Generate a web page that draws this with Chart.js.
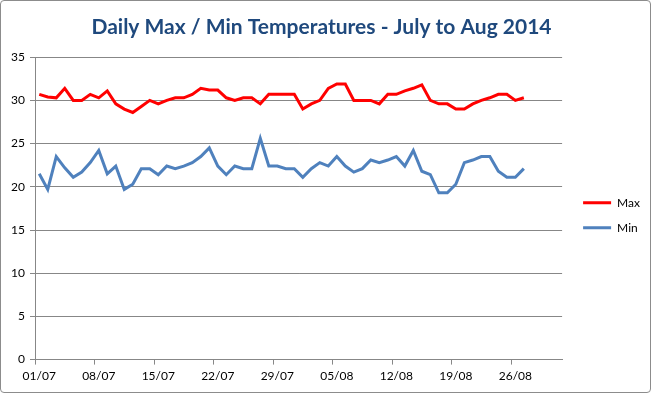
<!DOCTYPE html>
<html>
<head>
<meta charset="utf-8">
<script src="https://cdn.jsdelivr.net/npm/chart.js@4"></script>
<style>
  html, body { margin: 0; padding: 0; background: #fff; }
  #wrap { width: 651px; height: 393px; box-sizing: border-box; border: 1px solid #8c8c8c; border-radius: 4px; }
</style>
</head>
<body>
<div id="wrap"><canvas id="chart" width="649" height="391"></canvas></div>
<script>
// days shown on the axis: 01/07 .. 31/08
var days = [];
for (var d = 1; d <= 31; d++) days.push((d < 10 ? '0' + d : '' + d) + '/07');
for (var d = 1; d <= 31; d++) days.push((d < 10 ? '0' + d : '' + d) + '/08');

// readings (01/07 to 27/08)
var maxTemps = [30.7, 30.4, 30.3, 31.4, 30.0, 30.0, 30.7, 30.3, 31.1, 29.6,
                29.0, 28.6, 29.3, 30.0, 29.6, 30.0, 30.3, 30.3, 30.7, 31.4,
                31.2, 31.2, 30.3, 30.0, 30.3, 30.3, 29.6, 30.7, 30.7, 30.7,
                30.7, 29.0, 29.6, 30.0, 31.4, 31.9, 31.9, 30.0, 30.0, 30.0,
                29.6, 30.7, 30.7, 31.1, 31.4, 31.8, 30.0, 29.6, 29.6, 29.0,
                29.0, 29.6, 30.0, 30.3, 30.7, 30.7, 30.0, 30.3];
var minTemps = [21.5, 19.7, 23.5, 22.2, 21.1, 21.7, 22.8, 24.2, 21.5, 22.4,
                19.7, 20.3, 22.1, 22.1, 21.4, 22.4, 22.1, 22.4, 22.8, 23.5,
                24.5, 22.4, 21.4, 22.4, 22.1, 22.1, 25.6, 22.4, 22.4, 22.1,
                22.1, 21.1, 22.1, 22.8, 22.4, 23.5, 22.4, 21.7, 22.1, 23.1,
                22.8, 23.1, 23.5, 22.4, 24.2, 21.8, 21.4, 19.3, 19.3, 20.3,
                22.8, 23.1, 23.5, 23.5, 21.8, 21.1, 21.1, 22.1];
var yTicks = [0, 5, 10, 15, 20, 25, 30, 35];

var font = 'Lato, "Liberation Sans", sans-serif';
var gridGrey = '#878787';

// legend sits a little further right than chart.js would put it
var legendNudge = {
  id: 'legendNudge',
  afterLayout: function(c) {
    c.legend.left += 8;
    c.legend.right += 8;
  }
};

var ctx = document.getElementById('chart').getContext('2d');
var chart = new Chart(ctx, {
  type: 'line',
  data: {
    labels: days,
    datasets: [
      {
        label: 'Max',
        data: maxTemps,
        borderColor: '#ff0000',
        backgroundColor: '#ff0000',
        borderWidth: 3,
        pointRadius: 0,
        tension: 0
      },
      {
        label: 'Min',
        data: minTemps,
        borderColor: '#4f81bd',
        backgroundColor: '#4f81bd',
        borderWidth: 3,
        pointRadius: 0,
        tension: 0
      }
    ]
  },
  plugins: [legendNudge],
  options: {
    responsive: false,
    animation: false,
    layout: { padding: { left: 0, right: 8, top: 0, bottom: 5 } },
    plugins: {
      title: {
        display: true,
        text: 'Daily Max / Min Temperatures - July to Aug 2014',
        color: '#1f497d',
        font: { family: font, size: 21, weight: 'bold' },
        padding: { top: 14, bottom: 17 }
      },
      legend: {
        position: 'right',
        // blank title just pushes the items down a bit
        title: { display: true, text: ' ', font: { size: 12 }, padding: 14 },
        labels: {
          boxWidth: 28,
          boxHeight: 0,
          color: '#000',
          font: { family: font, size: 12 },
          padding: 13
        }
      },
      tooltip: { enabled: false }
    },
    scales: {
      x: {
        offset: true,
        grid: {
          offset: true,
          drawOnChartArea: false,
          drawTicks: true,
          tickLength: 5,
          color: function(c) { return c.index % 7 === 0 ? gridGrey : 'transparent'; }
        },
        border: { color: gridGrey },
        ticks: {
          autoSkip: false,
          maxRotation: 0,
          minRotation: 0,
          color: '#000',
          font: { family: font, size: 12 },
          padding: 4,
          callback: function(v, i) { return i % 7 === 0 ? days[i] : ''; }
        }
      },
      y: {
        min: 0,
        max: 35,
        afterBuildTicks: function(s) { s.ticks = yTicks.map(function(v) { return { value: v }; }); },
        afterFit: function(s) { s.width = 34; },
        grid: { color: gridGrey, tickLength: 5 },
        border: { color: gridGrey },
        ticks: {
          color: '#000',
          font: { family: font, size: 12 },
          padding: 5
        }
      }
    }
  }
});
</script>
</body>
</html>
